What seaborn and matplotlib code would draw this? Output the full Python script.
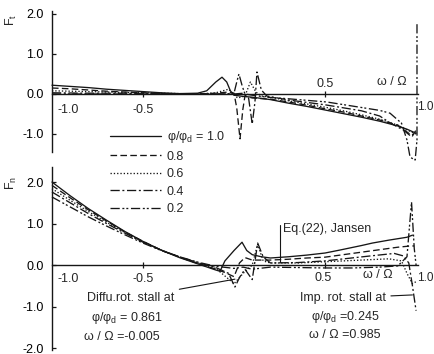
import matplotlib
matplotlib.use("Agg")
import matplotlib.pyplot as plt
import seaborn as sns

# flow ratio phi/phi_d for each curve
ratios = ["1.0", "0.8", "0.6", "0.4", "0.2"]

# --- Ft (tangential force)
ft_10_x = [-1.0, -0.9, -0.8, -0.7, -0.6, -0.5, -0.4, -0.3, -0.2, -0.15, -0.1, -0.066, -0.04, -0.02, 0.0, 0.05, 0.1, 0.2, 0.3, 0.4, 0.5, 0.6, 0.7, 0.8, 0.9, 0.95, 1.0]
ft_10_y = [0.22, 0.19, 0.16, 0.12, 0.09, 0.06, 0.03, 0.01, 0.02, 0.08, 0.3, 0.42, 0.3, 0.08, -0.03, -0.06, -0.08, -0.14, -0.23, -0.31, -0.4, -0.49, -0.58, -0.68, -0.8, -0.88, -0.98]
ft_08_x = [-1.0, -0.9, -0.8, -0.7, -0.6, -0.5, -0.4, -0.3, -0.2, -0.1, -0.03, 0.0, 0.015, 0.033, 0.048, 0.06, 0.1, 0.2, 0.3, 0.4, 0.5, 0.6, 0.7, 0.8, 0.9, 0.95, 0.98, 1.0]
ft_08_y = [0.15, 0.13, 0.1, 0.07, 0.05, 0.03, 0.01, 0.0, 0.0, 0.02, 0.05, 0.02, -0.35, -1.12, -0.4, -0.05, -0.1, -0.13, -0.2, -0.28, -0.37, -0.45, -0.55, -0.65, -0.78, -0.95, -1.05, -0.9]
ft_06_x = [-1.0, -0.9, -0.8, -0.7, -0.6, -0.5, -0.4, -0.3, -0.2, -0.1, -0.03, 0.02, 0.06, 0.09, 0.12, 0.15, 0.2, 0.3, 0.4, 0.5, 0.6, 0.7, 0.8, 0.9, 0.95, 1.0]
ft_06_y = [0.08, 0.07, 0.06, 0.05, 0.04, 0.03, 0.02, 0.01, 0.0, 0.03, 0.12, -0.1, -0.05, 0.3, 0.05, -0.05, -0.08, -0.17, -0.25, -0.33, -0.42, -0.52, -0.63, -0.78, -0.9, -1.0]
ft_04_x = [-1.0, -0.8, -0.6, -0.4, -0.2, 0.0, 0.05, 0.08, 0.1, 0.115, 0.126, 0.15, 0.18, 0.3, 0.5, 0.7, 0.8, 0.86, 0.93, 0.97, 1.0]
ft_04_y = [0.03, 0.02, 0.02, 0.01, 0.0, 0.0, 0.02, -0.1, -0.75, -0.2, 0.55, 0.1, -0.05, -0.15, -0.27, -0.42, -0.55, -0.73, -0.9, -1.05, -0.95]
ft_02_x = [-1.0, -0.8, -0.6, -0.4, -0.2, -0.05, 0.0, 0.015, 0.027, 0.045, 0.06, 0.1, 0.18, 0.3, 0.51, 0.69, 0.8, 0.857, 0.92, 0.95, 0.967, 0.995, 1.005, 1.005]
ft_02_y = [0.0, 0.0, 0.0, 0.0, 0.0, 0.0, 0.02, 0.3, 0.5, 0.2, 0.0, -0.03, -0.08, -0.12, -0.2, -0.33, -0.41, -0.48, -0.73, -1.15, -1.58, -1.65, -1.15, 1.75]

# --- Fn (normal force)
fn_10_x = [-1.0, -0.9, -0.8, -0.7, -0.6, -0.5, -0.4, -0.3, -0.2, -0.1, -0.077, -0.05, 0.0, 0.044, 0.07, 0.1, 0.15, 0.2, 0.3, 0.4, 0.5, 0.58, 0.7, 0.76, 0.85, 0.95, 0.98]
fn_10_y = [2.0, 1.67, 1.36, 1.08, 0.81, 0.57, 0.36, 0.18, 0.03, -0.12, -0.15, 0.1, 0.35, 0.55, 0.35, 0.25, 0.2, 0.17, 0.2, 0.24, 0.29, 0.36, 0.47, 0.53, 0.6, 0.67, 0.72]
fn_08_x = [-1.0, -0.9, -0.8, -0.7, -0.6, -0.5, -0.4, -0.3, -0.2, -0.1, -0.05, 0.0, 0.03, 0.06, 0.1, 0.2, 0.3, 0.4, 0.5, 0.6, 0.7, 0.8, 0.9, 0.97, 0.99]
fn_08_y = [1.92, 1.62, 1.33, 1.06, 0.8, 0.57, 0.36, 0.19, 0.04, -0.1, -0.18, -0.28, 0.05, 0.18, 0.12, 0.12, 0.14, 0.17, 0.19, 0.25, 0.31, 0.37, 0.43, 0.46, 0.46]
fn_06_x = [-1.0, -0.9, -0.8, -0.7, -0.6, -0.5, -0.4, -0.3, -0.2, -0.1, -0.04, 0.0, 0.05, 0.1, 0.13, 0.16, 0.2, 0.35, 0.5, 0.7, 0.85, 0.92, 0.95, 0.98, 1.0]
fn_06_y = [1.84, 1.56, 1.29, 1.03, 0.79, 0.56, 0.36, 0.19, 0.05, -0.08, -0.3, -0.45, -0.2, 0.0, 0.5, 0.1, 0.05, 0.05, 0.08, 0.12, 0.15, 0.1, -0.2, -0.45, -0.4]
fn_04_x = [-1.0, -0.9, -0.8, -0.7, -0.6, -0.5, -0.4, -0.3, -0.2, -0.1, -0.03, 0.005, 0.03, 0.06, 0.1, 0.13, 0.16, 0.2, 0.35, 0.5, 0.75, 0.88, 0.93, 0.96, 0.98, 1.0]
fn_04_y = [1.76, 1.5, 1.24, 1.0, 0.77, 0.55, 0.36, 0.2, 0.06, -0.06, -0.2, -0.53, -0.3, -0.1, -0.35, 0.53, 0.2, 0.05, 0.06, 0.1, 0.22, 0.28, 0.22, 0.05, -0.5, -1.1]
fn_02_x = [-1.0, -0.9, -0.8, -0.7, -0.6, -0.5, -0.4, -0.3, -0.2, -0.1, 0.0, 0.05, 0.1, 0.2, 0.35, 0.5, 0.65, 0.8, 0.9, 0.95, 0.975, 0.99, 1.0]
fn_02_y = [1.64, 1.4, 1.16, 0.94, 0.73, 0.53, 0.35, 0.2, 0.07, -0.03, -0.08, -0.05, -0.1, -0.05, -0.06, -0.07, -0.07, -0.05, -0.02, 0.2, 1.52, 0.4, 0.0]

ft_curves = [(ft_10_x, ft_10_y), (ft_08_x, ft_08_y), (ft_06_x, ft_06_y), (ft_04_x, ft_04_y), (ft_02_x, ft_02_y)]
fn_curves = [(fn_10_x, fn_10_y), (fn_08_x, fn_08_y), (fn_06_x, fn_06_y), (fn_04_x, fn_04_y), (fn_02_x, fn_02_y)]

# Eq.(22), Jansen marker
eq22_x = 0.253

sns.set_style("ticks")
plt.rcParams['font.family'] = ['Liberation Sans', 'DejaVu Sans']
plt.rcParams['mathtext.default'] = 'regular'
plt.rcParams['font.size'] = 9

ink = '#161616'
styles = ['-', (0, (5, 2.5)), (0, (1, 1.5)), (0, (7, 2, 1.5, 2)), (0, (7, 2, 1.5, 1.5, 1.5, 2))]

fig = plt.figure(figsize=(4.35, 3.54), dpi=100)
W, H = 435.0, 354.0

# axes placed so that x=-1..1 maps to px 52..416
ax_t = fig.add_axes([46.5 / W, (H - 170) / H, 380.5 / W, 164 / H])
ax_b = fig.add_axes([46.5 / W, (H - 352.2) / H, 380.5 / W, 186.75 / H])

for ax, curves in [(ax_t, ft_curves), (ax_b, fn_curves)]:
    ax.set_facecolor('none')
    for (xs, ys), ls in zip(curves, styles):
        sns.lineplot(x=xs, y=ys, ax=ax, color=ink, linewidth=0.95, linestyle=ls,
                     sort=False, estimator=None, errorbar=None, legend=False)
    ax.set_xlim(-1.03, 1.06)
    ax.spines['top'].set_visible(False)
    ax.spines['right'].set_visible(False)
    ax.spines['left'].set_position(('data', -1.0))
    ax.spines['bottom'].set_position(('data', 0.0))
    ax.spines['bottom'].set_bounds(-1.0, 1.012)
    for s in ['left', 'bottom']:
        ax.spines[s].set_color(ink)
        ax.spines[s].set_linewidth(1.0)
    ax.set_xticks([-0.5, 0.5])
    ax.set_xticklabels([])
    ax.tick_params(axis='x', direction='inout', length=5, width=0.9, color=ink)
    ax.tick_params(axis='y', direction='in', length=3, width=0.9, color=ink,
                   labelsize=9, pad=6, labelcolor='black')
    ax.set_xlabel('')
    ax.set_ylabel('')

# top panel
ax_t.set_ylim(-1.9, 2.2)
ax_t.spines['left'].set_bounds(-1.45, 2.07)
ax_t.set_yticks([2.0, 1.0, 0.0, -1.0])
ax_t.set_yticklabels(['2.0', '1.0', '0.0', '-1.0'])
ax_t.text(-0.91, -0.4, '-1.0', ha='center', va='center', fontsize=9)
ax_t.text(-0.5, -0.4, '-0.5', ha='center', va='center', fontsize=9)
ax_t.text(0.5, 0.26, '0.5', ha='center', va='center', fontsize=9)
ax_t.text(0.868, 0.3, 'ω / Ω', ha='center', va='center', fontsize=9)
ax_t.text(1.008, -0.33, '1.0', ha='left', va='center', fontsize=8.5)

# bottom panel
ax_b.set_ylim(-2.1, 2.4)
ax_b.spines['left'].set_bounds(-2.05, 2.36)
ax_b.set_yticks([2.0, 1.0, 0.0, -1.0, -2.0])
ax_b.set_yticklabels(['2.0', '1.0', '0.0', '-1.0', '-2.0'])
ax_b.text(-0.91, -0.34, '-1.0', ha='center', va='center', fontsize=9)
ax_b.text(-0.5, -0.34, '-0.5', ha='center', va='center', fontsize=9)
ax_b.text(0.49, -0.32, '0.5', ha='center', va='center', fontsize=9)
ax_b.text(0.79, -0.24, 'ω / Ω', ha='center', va='center', fontsize=9)
ax_b.text(1.008, -0.32, '1.0', ha='left', va='center', fontsize=8.5)

ax_b.plot([eq22_x, eq22_x], [0.07, 0.96], color=ink, linewidth=0.8)
ax_b.text(0.27, 0.87, 'Eq.(22), Jansen', ha='left', va='center', fontsize=9)

arrow = dict(arrowstyle='-', color=ink, lw=0.8, shrinkA=1, shrinkB=0)
ax_b.annotate('Diffu.rot. stall at', xy=(0.005, -0.34), xytext=(-0.566, -0.795),
              ha='center', va='center', fontsize=9, arrowprops=arrow)
ax_b.text(-0.588, -1.28, 'φ/φ$_d$ = 0.861', ha='center', va='center', fontsize=9)
ax_b.text(-0.615, -1.73, 'ω / Ω =-0.005', ha='center', va='center', fontsize=9)
ax_b.annotate('Imp. rot. stall at', xy=(0.98, -0.72), xytext=(0.6, -0.795),
              ha='center', va='center', fontsize=9, arrowprops=arrow)
ax_b.text(0.61, -1.25, 'φ/φ$_d$ =0.245', ha='center', va='center', fontsize=9)
ax_b.text(0.61, -1.69, 'ω / Ω =0.985', ha='center', va='center', fontsize=9)

# axis names
fig.text(11 / W, 1 - 20 / H, 'F$_t$', rotation=90, ha='center', va='center', fontsize=9)
fig.text(11 / W, 1 - 183 / H, 'F$_n$', rotation=90, ha='center', va='center', fontsize=9)

# legend between the panels
handles = ax_t.get_lines()[:5]
labels = ['φ/φ$_d$ = ' + ratios[0]] + ratios[1:]
fig.legend(handles, labels, loc='upper left', bbox_to_anchor=(110 / W, 1 - 129 / H),
           frameon=False, fontsize=9, handlelength=4.1, handletextpad=0.45,
           labelspacing=0.45, borderpad=0, borderaxespad=0)

fig.savefig('out.png', dpi=100)
